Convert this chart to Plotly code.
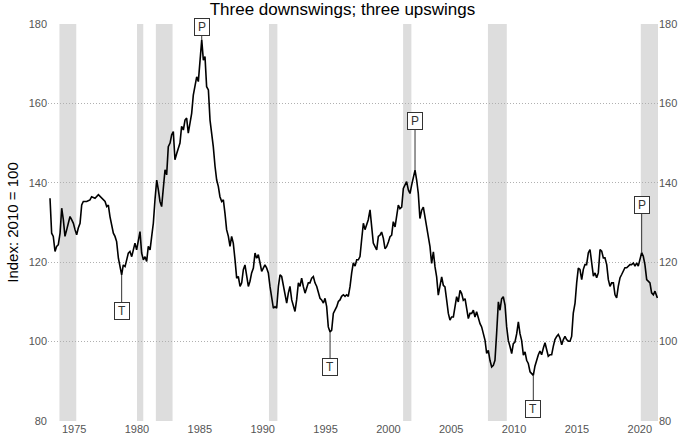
import plotly.graph_objects as go

# ---- data (decimal years, index 2010 = 100) ----
year = [
    1973.08, 1973.21, 1973.34, 1973.48, 1973.61, 1973.74, 1973.88, 1974.01, 1974.14, 1974.27,
    1974.41, 1974.54, 1974.67, 1974.80, 1974.94, 1975.07, 1975.20, 1975.33, 1975.47, 1975.60,
    1975.73, 1976.00, 1976.26, 1976.39, 1976.66, 1976.93, 1977.19, 1977.46, 1977.59, 1977.72,
    1977.85, 1977.99, 1978.12, 1978.25, 1978.38, 1978.52, 1978.65, 1978.78, 1978.91, 1979.05,
    1979.18, 1979.31, 1979.44, 1979.58, 1979.71, 1979.84, 1979.97, 1980.11, 1980.24, 1980.37,
    1980.51, 1980.64, 1980.77, 1980.90, 1981.04, 1981.17, 1981.30, 1981.43, 1981.57, 1981.70,
    1981.83, 1981.96, 1982.10, 1982.23, 1982.36, 1982.49, 1982.63, 1982.76, 1982.89, 1983.02,
    1983.16, 1983.29, 1983.42, 1983.55, 1983.69, 1983.82, 1983.95, 1984.08, 1984.22, 1984.35,
    1984.48, 1984.61, 1984.75, 1984.88, 1985.01, 1985.15,
    1985.28, 1985.41, 1985.54, 1985.68, 1985.81, 1985.94, 1986.07, 1986.21, 1986.34, 1986.47,
    1986.60, 1986.74, 1986.87, 1987.00, 1987.13, 1987.27, 1987.40, 1987.53, 1987.66, 1987.80,
    1987.93, 1988.06, 1988.20, 1988.33, 1988.46, 1988.59, 1988.73, 1988.86, 1988.99, 1989.12,
    1989.26, 1989.39, 1989.52, 1989.65, 1989.79, 1989.92, 1990.05, 1990.18, 1990.32, 1990.45,
    1990.58, 1990.71, 1990.85, 1990.98, 1991.11, 1991.25, 1991.38, 1991.51, 1991.64, 1991.78,
    1991.91, 1992.04, 1992.17, 1992.31, 1992.44, 1992.57, 1992.70, 1992.84, 1992.97, 1993.10,
    1993.23, 1993.37, 1993.50, 1993.63, 1993.76, 1993.90, 1994.03, 1994.16, 1994.30, 1994.43,
    1994.56, 1994.69, 1994.83, 1994.96, 1995.09, 1995.22, 1995.36, 1995.49, 1995.62, 1995.75,
    1995.89, 1996.02, 1996.15, 1996.28, 1996.42, 1996.55, 1996.68, 1996.81, 1996.95, 1997.08,
    1997.21, 1997.35, 1997.48, 1997.61, 1997.74, 1997.87, 1998.01, 1998.14, 1998.27, 1998.40,
    1998.54, 1998.67, 1998.80, 1998.93, 1999.07, 1999.20,
    1999.33, 1999.46, 1999.60, 1999.73, 1999.86, 2000.00, 2000.13, 2000.26, 2000.39, 2000.53,
    2000.66, 2000.79, 2000.92, 2001.06, 2001.19, 2001.32, 2001.45, 2001.59, 2001.72, 2001.85,
    2001.98, 2002.12, 2002.25, 2002.38, 2002.51, 2002.65, 2002.78, 2002.91, 2003.04, 2003.18,
    2003.31, 2003.44, 2003.58, 2003.71, 2003.84, 2003.97, 2004.11, 2004.24, 2004.37, 2004.50,
    2004.64, 2004.77, 2004.90, 2005.03, 2005.17, 2005.30, 2005.43, 2005.56, 2005.70, 2005.83,
    2005.96, 2006.10, 2006.23, 2006.36, 2006.49, 2006.63, 2006.76, 2006.89, 2007.02, 2007.16,
    2007.29, 2007.42, 2007.55, 2007.69, 2007.82, 2007.95, 2008.08, 2008.22, 2008.35, 2008.48,
    2008.61, 2008.75, 2008.88, 2009.01, 2009.14, 2009.28, 2009.41, 2009.54, 2009.68, 2009.81,
    2009.94, 2010.07, 2010.21, 2010.34, 2010.47, 2010.60, 2010.74, 2010.87, 2011.00, 2011.13,
    2011.27, 2011.40, 2011.53,
    2011.66, 2011.80, 2011.93, 2012.06, 2012.19, 2012.33, 2012.46, 2012.59, 2012.72, 2012.86,
    2012.99, 2013.12, 2013.25, 2013.39, 2013.52, 2013.65, 2013.79, 2013.92, 2014.05, 2014.18,
    2014.32, 2014.45, 2014.58, 2014.71, 2014.85, 2014.98, 2015.11, 2015.24, 2015.38, 2015.51,
    2015.64, 2015.77, 2015.91, 2016.04, 2016.17, 2016.31, 2016.44, 2016.57, 2016.70, 2016.84,
    2016.97, 2017.10, 2017.23, 2017.37, 2017.50, 2017.63, 2017.76, 2017.90, 2018.03, 2018.16,
    2018.29, 2018.43, 2018.56, 2018.69, 2018.82, 2018.96, 2019.09, 2019.22, 2019.35, 2019.49,
    2019.62, 2019.75, 2019.88, 2020.02, 2020.15, 2020.28, 2020.41, 2020.55, 2020.68, 2020.81,
    2020.94, 2021.08, 2021.21, 2021.34, 2021.40,
]
index_value = [
    136.1, 127.3, 126.5, 122.7, 124.0, 124.4, 127.3, 133.6, 130.7, 126.5,
    128.2, 129.8, 131.5, 130.7, 129.8, 128.2, 126.9, 128.6, 129.8, 134.4,
    135.3, 135.3, 135.7, 136.5, 136.1, 137.0, 136.1, 135.3, 134.0, 134.4,
    131.5, 129.0, 127.3, 126.5, 125.2, 121.0, 118.9, 116.8, 119.3, 118.9,
    120.6, 122.3, 122.7, 121.4, 123.1, 124.8, 123.1, 125.6, 127.7, 122.3,
    120.6, 121.4, 120.2, 124.0, 123.1, 126.5, 129.8, 135.7, 140.7, 138.2,
    135.3, 134.0, 139.9, 143.3, 142.0, 149.1, 150.0, 152.1, 152.9, 145.8,
    147.4, 149.1, 150.0, 154.2, 153.3, 155.8, 156.3, 152.5, 155.0, 157.5,
    162.1, 164.2, 166.7, 165.5, 170.9, 176.0,
    170.9, 171.8, 164.2, 163.4, 155.8, 152.5, 149.1, 144.1, 140.7, 139.1,
    136.5, 135.3, 135.7, 132.3, 128.2, 126.5, 124.0, 126.5, 124.8, 120.6,
    116.0, 116.4, 113.9, 114.8, 118.1, 119.3, 116.4, 113.9, 115.2, 117.3,
    118.5, 122.3, 121.0, 121.9, 119.8, 117.7, 118.5, 119.3, 118.5, 117.3,
    113.9, 110.5, 108.4, 108.8, 108.4, 113.9, 116.8, 116.4, 113.9, 112.2,
    109.7, 112.2, 113.9, 110.5, 108.8, 107.6, 110.5, 114.8, 113.9, 116.0,
    113.9, 112.2, 113.5, 114.8, 114.8, 116.0, 116.4, 114.8, 113.9, 112.2,
    110.9, 110.5, 109.7, 110.9, 108.8, 103.7, 102.4, 102.9, 107.1, 107.9,
    108.8, 110.1, 110.5, 111.4, 111.8, 111.4, 111.8, 111.4, 113.9, 117.3,
    119.8, 119.0, 120.6, 120.6, 121.4, 125.6, 129.8, 128.2, 129.8, 130.7,
    133.2, 129.0, 124.8, 124.0, 123.1, 126.5,
    126.8, 127.6, 126.0, 123.4, 123.9, 125.1, 126.4, 126.8, 130.2, 128.9,
    131.8, 134.4, 133.5, 133.9, 138.6, 139.4, 140.3, 138.2, 137.3, 139.4,
    141.5, 143.2, 140.7, 137.3, 131.0, 133.1, 133.9, 131.4, 128.1, 126.4,
    123.9, 119.7, 122.6, 118.8, 116.3, 111.7, 113.8, 116.3, 114.2, 113.8,
    110.4, 107.1, 105.4, 106.2, 106.2, 108.7, 111.3, 110.0, 112.9, 112.1,
    110.4, 110.8, 108.7, 105.8, 107.1, 107.1, 107.9, 106.2, 107.5, 105.8,
    104.5, 103.7, 102.0, 100.3, 97.0, 97.8, 95.3, 93.6, 94.0, 95.3,
    102.0, 110.0, 107.9, 110.8, 111.3, 109.2, 103.7, 100.3, 98.7, 97.0,
    99.5, 99.9, 102.0, 105.0, 102.0, 100.3, 96.6, 97.4, 95.3, 94.5,
    92.4, 91.9, 91.5,
    93.8, 95.5, 96.7, 97.6, 96.7, 98.4, 99.7, 98.0, 96.3, 96.7,
    96.7, 98.8, 100.5, 101.3, 101.8, 100.9, 99.2, 100.5, 101.3, 100.5,
    100.1, 100.1, 101.3, 107.2, 109.7, 114.8, 118.5, 118.2, 115.6, 118.2,
    119.4, 119.4, 122.4, 123.2, 120.3, 116.5, 117.3, 116.1, 117.3, 123.2,
    122.8, 121.1, 121.1, 119.4, 115.6, 113.9, 114.8, 114.8, 111.8, 111.0,
    113.9, 116.1, 116.9, 117.7, 118.6, 118.6, 119.0, 119.4, 119.4, 119.8,
    119.0, 119.8, 119.0, 120.7, 122.4, 121.5, 119.4, 115.6, 115.2, 114.8,
    112.3, 111.8, 112.7, 111.4, 111.0,
]

# recessions (shaded bands)
rec_start = [1973.83, 1980.00, 1981.50, 1990.50, 2001.17, 2007.92, 2020.08]
rec_end = [1975.17, 1980.50, 1982.83, 1991.17, 2001.83, 2009.42, 2021.45]

# turning points: label, point year, point value, label-box value
tp_label = ["T", "P", "T", "P", "T", "P"]
tp_year = [1978.78, 1985.15, 1995.36, 2002.12, 2011.53, 2020.15]
tp_value = [116.8, 176.0, 102.4, 143.2, 91.5, 122.4]
tp_box = [107.8, 179.2, 93.6, 155.5, 83.0, 134.3]

x_ticks = [1975, 1980, 1985, 1990, 1995, 2000, 2005, 2010, 2015, 2020]
y_ticks = [80, 100, 120, 140, 160, 180]

FONT = "Arial, Liberation Sans, sans-serif"
TICK_COLOR = "#555555"
GRID_DASH = "1px,2px"

fig = go.Figure()
fig.add_trace(go.Scatter(x=year, y=index_value, mode="lines",
                         line=dict(color="black", width=1.6),
                         hoverinfo="skip", showlegend=False))
# invisible trace to activate the right-hand axis
fig.add_trace(go.Scatter(x=year, y=index_value, mode="lines", yaxis="y2",
                         line=dict(color="rgba(0,0,0,0)", width=0),
                         hoverinfo="skip", showlegend=False))

for s, e in zip(rec_start, rec_end):
    fig.add_shape(type="rect", xref="x", yref="paper", x0=s, x1=e, y0=0, y1=1,
                  fillcolor="#dddddd", line=dict(width=0), layer="below")

for lab, xv, yv, by in zip(tp_label, tp_year, tp_value, tp_box):
    fig.add_annotation(x=xv, y=yv, ax=xv, ay=by, axref="x", ayref="y",
                       text=lab, showarrow=True, arrowhead=0, arrowwidth=1,
                       arrowcolor="#333333", standoff=0,
                       font=dict(family=FONT, size=12, color="#333333"),
                       bgcolor="white", bordercolor="#333333", borderwidth=1,
                       borderpad=1, width=12)

fig.update_layout(
    width=685, height=437,
    margin=dict(l=48, r=27, t=24, b=16, autoexpand=False),
    paper_bgcolor="white", plot_bgcolor="white",
    font=dict(family=FONT, color=TICK_COLOR, size=11),
    title=dict(text="Three downswings; three upswings", x=0.5, xanchor="center",
               y=0.993, yanchor="top", yref="container",
               font=dict(family=FONT, size=17, color="black")),
    xaxis=dict(range=[1972.92, 2021.45], tickvals=x_ticks, ticks="",
               showgrid=False, zeroline=False, showline=False,
               tickfont=dict(size=11, color=TICK_COLOR)),
    yaxis=dict(range=[80, 180], tickvals=y_ticks, ticks="",
               showgrid=True, gridcolor="#b0b0b0", griddash=GRID_DASH, gridwidth=1,
               zeroline=False, showline=False,
               tickfont=dict(size=11, color=TICK_COLOR),
               title=dict(text="Index: 2010 = 100",
                          font=dict(family=FONT, size=15, color="black"),
                          standoff=6)),
    yaxis2=dict(range=[80, 180], tickvals=y_ticks, ticks="", overlaying="y",
                side="right", showgrid=False, zeroline=False, showline=False,
                tickfont=dict(size=11, color=TICK_COLOR)),
)

fig.write_html("out.html", config={"displayModeBar": False},
               post_script="document.body.style.margin='0';")
